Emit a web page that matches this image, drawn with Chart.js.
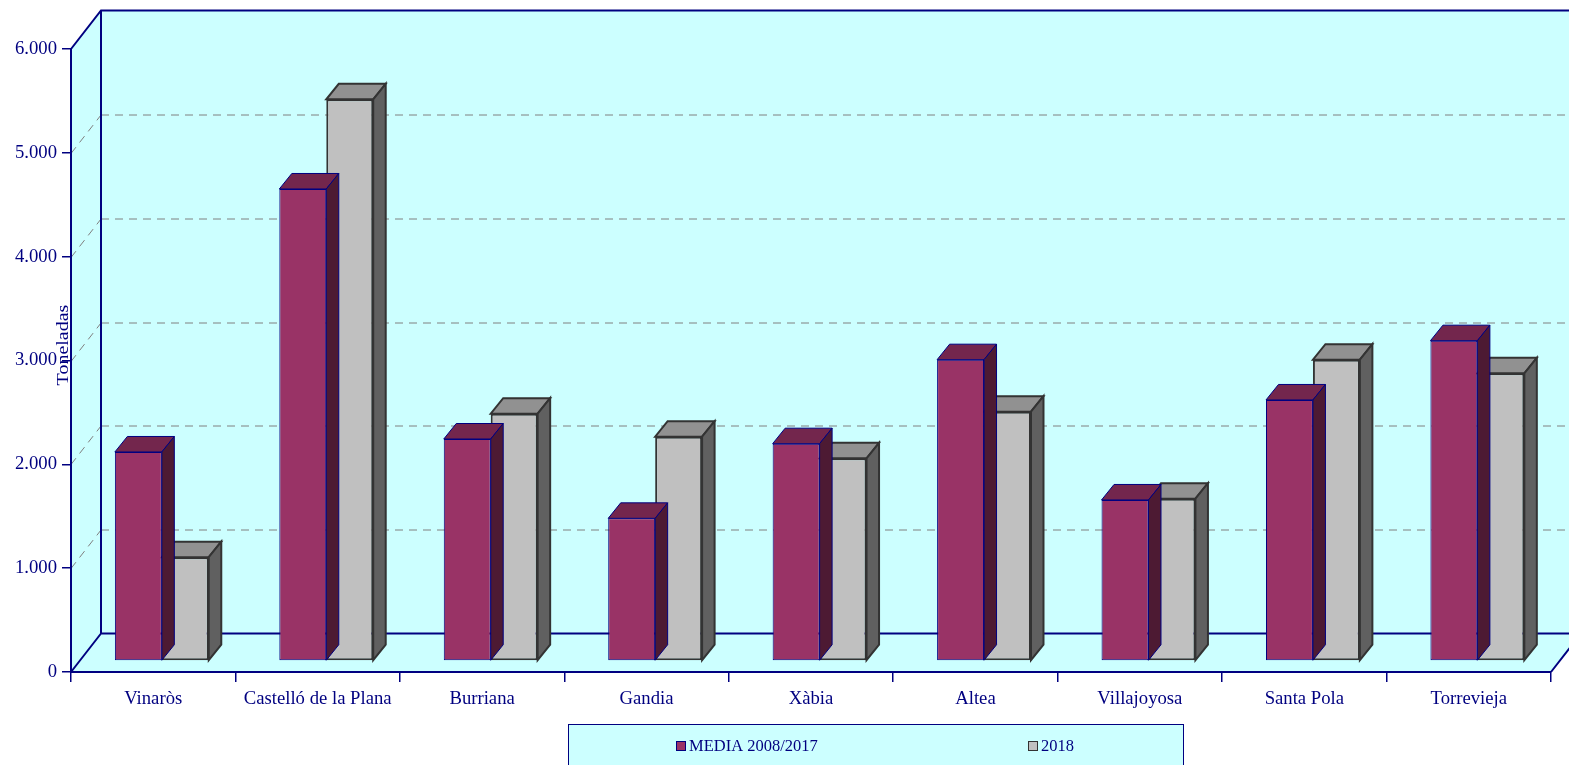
<!DOCTYPE html>
<html>
<head>
<meta charset="utf-8">
<script src="https://cdn.jsdelivr.net/npm/chart.js@4/dist/chart.umd.min.js"></script>
<style>
  html, body { margin: 0; padding: 0; background: #ffffff; }
  #wrap { width: 1569px; height: 765px; position: relative; }
</style>
</head>
<body>
<div id="wrap"><canvas id="c" width="1569" height="765"></canvas></div>
<script>
// ---- data ----
const categories = ['Vinaròs', 'Castelló de la Plana', 'Burriana', 'Gandia', 'Xàbia', 'Altea', 'Villajoyosa', 'Santa Pola', 'Torrevieja'];
const seriesNames = ['MEDIA 2008/2017', '2018'];
const media = [2013, 4546, 2138, 1374, 2093, 2902, 1551, 2514, 3085];
const year2018 = [1000, 5410, 2382, 2160, 1952, 2401, 1563, 2902, 2771];
const yMin = 0, yMax = 6000, yStep = 1000;
const yTitle = 'Toneladas';

// ---- styles ----
const NAVY = '#000080';
const CYAN = '#CCFFFF';
const FONT = '"Liberation Serif", "Times New Roman", serif';
const faces = [
  { front: '#993366', top: '#73264D', side: '#4D1A33', border: NAVY, bw: 1 },
  { front: '#C0C0C0', top: '#919191', side: '#606060', border: '#333333', bw: 2 }
];
const WALL = { dx: 30, dy: -38.5 };   // depth of the 3D frame
const PLANE = { dx: 8.6, dy: -11 };   // front plane of the bars
const BAR = { dx: 12.5, dy: -15.5 };  // depth of the bars

function fmt(v) {
  return String(v).replace(/\B(?=(\d{3})+(?!\d))/g, '.');
}

const frame3d = {
  id: 'frame3d',
  beforeDraw(chart) {
    const ctx = chart.ctx;
    const { left: L, right: R, top: T, bottom: B } = chart.chartArea;
    const W = chart.width;
    const ys = chart.scales.y;
    ctx.save();
    ctx.fillStyle = '#ffffff';
    ctx.fillRect(0, 0, W, chart.height);
    ctx.fillStyle = CYAN;
    // side wall
    ctx.beginPath();
    ctx.moveTo(L, T); ctx.lineTo(L + WALL.dx, T + WALL.dy);
    ctx.lineTo(L + WALL.dx, B + WALL.dy); ctx.lineTo(L, B); ctx.closePath(); ctx.fill();
    // back wall
    ctx.fillRect(L + WALL.dx, T + WALL.dy, W - (L + WALL.dx), B - T);
    // floor
    ctx.beginPath();
    ctx.moveTo(L, B); ctx.lineTo(L + WALL.dx, B + WALL.dy);
    ctx.lineTo(R + WALL.dx, B + WALL.dy); ctx.lineTo(R, B); ctx.closePath(); ctx.fill();
    // dashed gridlines
    ctx.strokeStyle = '#808080';
    ctx.lineWidth = 1;
    ctx.setLineDash([8, 6]);
    for (let v = yMin + yStep; v < yMax; v += yStep) {
      const y = Math.round(ys.getPixelForValue(v)) + 0.5;
      ctx.beginPath();
      ctx.moveTo(L, y); ctx.lineTo(L + WALL.dx, y + WALL.dy);
      ctx.stroke();
      ctx.beginPath();
      ctx.moveTo(L + WALL.dx, y + WALL.dy); ctx.lineTo(W, y + WALL.dy);
      ctx.stroke();
    }
    ctx.setLineDash([]);
    // frame lines
    ctx.strokeStyle = NAVY;
    ctx.lineWidth = 2;
    ctx.beginPath();
    ctx.moveTo(L, T); ctx.lineTo(L + WALL.dx, T + WALL.dy); ctx.lineTo(W, T + WALL.dy);
    ctx.moveTo(L + WALL.dx, T + WALL.dy); ctx.lineTo(L + WALL.dx, B + WALL.dy); ctx.lineTo(W, B + WALL.dy);
    ctx.moveTo(L, B); ctx.lineTo(L + WALL.dx, B + WALL.dy);
    ctx.moveTo(R, B); ctx.lineTo(R + WALL.dx, B + WALL.dy);
    ctx.stroke();
    ctx.restore();
  },
  beforeDatasetsDraw(chart) {
    chart.ctx.save();
    chart.ctx.translate(PLANE.dx, PLANE.dy);
  },
  afterDatasetDraw(chart, args) {
    const ctx = chart.ctx;
    const meta = args.meta;
    const f = faces[args.index];
    meta.data.forEach(el => {
      const p = el.getProps(['x', 'y', 'base', 'width'], true);
      const x0 = p.x - p.width / 2, x1 = p.x + p.width / 2;
      const yt = p.y, yb = p.base;
      ctx.save();
      ctx.lineJoin = 'miter';
      ctx.lineWidth = f.bw;
      ctx.strokeStyle = f.border;
      // top face
      ctx.beginPath();
      ctx.moveTo(x0, yt); ctx.lineTo(x1, yt);
      ctx.lineTo(x1 + BAR.dx, yt + BAR.dy); ctx.lineTo(x0 + BAR.dx, yt + BAR.dy); ctx.closePath();
      ctx.fillStyle = f.top; ctx.fill(); ctx.stroke();
      // side face
      ctx.beginPath();
      ctx.moveTo(x1, yt); ctx.lineTo(x1 + BAR.dx, yt + BAR.dy);
      ctx.lineTo(x1 + BAR.dx, yb + BAR.dy); ctx.lineTo(x1, yb); ctx.closePath();
      ctx.fillStyle = f.side; ctx.fill(); ctx.stroke();
      ctx.restore();
    });
  },
  afterDatasetsDraw(chart) {
    chart.ctx.restore();
  },
  afterDraw(chart) {
    const ctx = chart.ctx;
    ctx.save();
    // axis title
    ctx.translate(64, 345);
    ctx.rotate(-Math.PI / 2);
    ctx.scale(1.25, 1);
    ctx.font = '16px ' + FONT;
    ctx.fillStyle = NAVY;
    ctx.textAlign = 'center';
    ctx.textBaseline = 'middle';
    ctx.fillText(yTitle, 0, 0);
    ctx.restore();
    // legend
    ctx.save();
    ctx.fillStyle = CYAN;
    ctx.strokeStyle = NAVY;
    ctx.lineWidth = 1;
    ctx.fillRect(568.5, 724.5, 615, 60);
    ctx.strokeRect(568.5, 724.5, 615, 60);
    const items = [{ x: 676 }, { x: 1028 }];
    ctx.font = '16.5px ' + FONT;
    ctx.textBaseline = 'middle';
    ctx.textAlign = 'left';
    items.forEach((it, i) => {
      ctx.fillStyle = faces[i].front;
      ctx.fillRect(it.x + 0.5, 741.5, 9, 9);
      ctx.strokeStyle = faces[i].border;
      ctx.lineWidth = 1;
      ctx.strokeRect(it.x + 0.5, 741.5, 9, 9);
      ctx.fillStyle = NAVY;
      ctx.fillText(seriesNames[i], it.x + 13, 747);
    });
    ctx.restore();
  }
};

new Chart(document.getElementById('c'), {
  type: 'bar',
  data: {
    labels: categories,
    datasets: [
      { label: seriesNames[0], data: media, backgroundColor: faces[0].front, borderColor: faces[0].border, borderWidth: faces[0].bw, borderSkipped: false, clip: false },
      { label: seriesNames[1], data: year2018, backgroundColor: faces[1].front, borderColor: faces[1].border, borderWidth: faces[1].bw, borderSkipped: false, clip: false }
    ]
  },
  plugins: [frame3d],
  options: {
    responsive: false,
    devicePixelRatio: 1,
    animation: false,
    events: [],
    layout: { padding: { top: 49, right: 18, left: 0, bottom: 0 } },
    datasets: { bar: { categoryPercentage: 0.571, barPercentage: 1.0 } },
    plugins: { legend: { display: false }, tooltip: { enabled: false } },
    scales: {
      x: {
        offset: true,
        grid: { offset: true, drawOnChartArea: false, drawTicks: true, tickLength: 10, color: NAVY, lineWidth: 1.5 },
        border: { display: true, color: NAVY, width: 2 },
        ticks: { color: NAVY, font: { family: FONT, size: 18.7 }, padding: 6, maxRotation: 0, autoSkip: false },
        afterFit(s) { s.height = 93; }
      },
      y: {
        min: yMin, max: yMax,
        grid: { drawOnChartArea: false, drawTicks: true, tickLength: 9, color: NAVY, lineWidth: 1.5 },
        border: { display: true, color: NAVY, width: 2 },
        ticks: { stepSize: yStep, color: NAVY, font: { family: FONT, size: 18.7 }, padding: 5, callback: v => fmt(v) },
        afterFit(s) { s.width = 71; }
      }
    }
  }
});
</script>
</body>
</html>
